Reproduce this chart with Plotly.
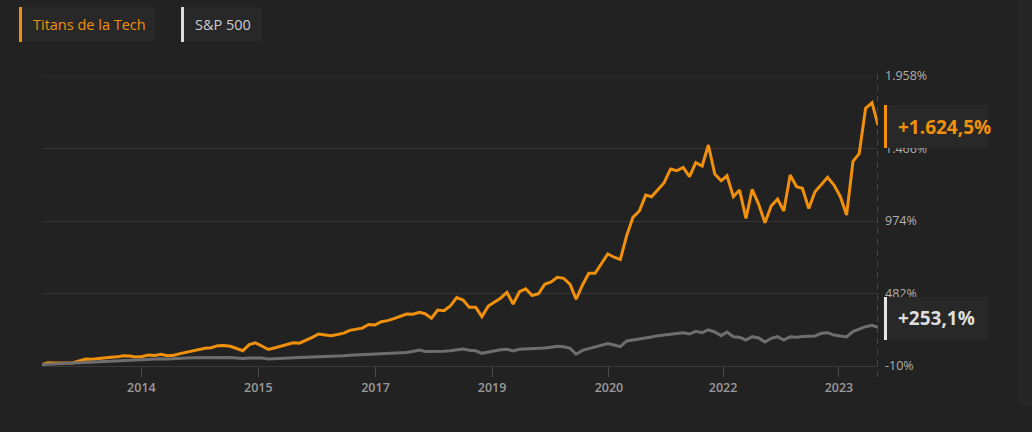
import pandas as pd
import plotly.graph_objects as go

# ---------------- data ----------------
start_month = "2013-02-01"
n_months = 134
dates = pd.date_range(start_month, periods=n_months, freq="MS")

titans = [0, 12, 11, 9, 10, 12, 24, 37, 36, 42,
          46, 49, 52, 59, 58, 51, 54, 65, 61, 69,
          59, 63, 74, 83, 92, 104, 111, 114, 128, 129,
          124, 109, 94, 135, 147, 126, 102, 112, 125, 134,
          148, 145, 162, 184, 207, 201, 196, 204, 213, 232,
          242, 247, 272, 268, 291, 298, 312, 328, 343, 341,
          354, 345, 314, 370, 365, 397, 455, 438, 388, 388,
          325, 397, 428, 450, 490, 411, 494, 514, 468, 480,
          545, 560, 592, 585, 544, 443, 540, 619, 619, 687,
          750, 728, 712, 876, 999, 1042, 1150, 1139, 1184, 1234,
          1327, 1315, 1338, 1275, 1370, 1347, 1490, 1293, 1247, 1281,
          1139, 1184, 992, 1189, 1089, 962, 1076, 1123, 1042, 1286,
          1207, 1196, 1059, 1173, 1222, 1271, 1218, 1139, 1015, 1379,
          1431, 1739, 1777, 1624.5]

sp500 = [0, 2, 5, 8, 10, 12, 14, 16, 18, 19,
         22, 25, 28, 31, 31, 33, 34, 36, 37, 40,
         38, 42, 44, 45, 46, 46, 48, 49, 48, 50,
         47, 44, 41, 45, 46, 44, 37, 38, 42, 44,
         45, 47, 49, 50, 51, 53, 53, 57, 60, 63,
         65, 68, 70, 72, 72, 74, 77, 79, 82, 88,
         99, 88, 87, 88, 90, 94, 99, 105, 97, 93,
         76, 86, 94, 100, 104, 92, 104, 106, 107, 107,
         112, 118, 124, 121, 110, 70, 96, 108, 118, 128,
         142, 132, 121, 160, 166, 172, 182, 187, 196, 200,
         207, 212, 216, 207, 225, 216, 236, 221, 196, 221,
         189, 185, 166, 189, 180, 153, 178, 189, 166, 189,
         185, 190, 192, 194, 212, 216, 200, 195, 187, 223,
         239, 257, 266, 253.1]

series_names = ["Titans de la Tech", "S&P 500"]
end_labels = ["+1.624,5%", "+253,1%"]

x_tick_dates = ["2014-05-28", "2015-12-15", "2017-07-04", "2019-01-19",
                "2020-08-07", "2022-02-10", "2023-08-25"]
x_tick_labels = ["2014", "2015", "2017", "2019", "2020", "2022", "2023"]

y_tick_values = [-10, 482, 974, 1466, 1958]
y_tick_labels = ["-10%", "482%", "974%", "1.466%", "1.958%"]

# ---------------- style ----------------
BG = "#222222"
BOX = "#282828"
ORANGE = "#f0900c"
GRAY_LINE = "#6e6e6e"
GRID = "#363636"
FONT = "Open Sans"

# plot area in pixels
W, H = 1032, 432
L, R, T, B = 42, 154, 76, 66
PW, PH = W - L - R, H - T - B


def px(xp):
    return (xp - L) / PW


def py(yp):
    return (H - B - yp) / PH


fig = go.Figure()
fig.add_trace(go.Scatter(x=dates, y=titans, mode="lines", name=series_names[0],
                         line=dict(color=ORANGE, width=3), hoverinfo="skip"))
fig.add_trace(go.Scatter(x=dates, y=sp500, mode="lines", name=series_names[1],
                         line=dict(color=GRAY_LINE, width=3), hoverinfo="skip"))

shapes = []
# subtle right panel strip
shapes.append(dict(type="rect", xref="paper", yref="paper", layer="below",
                   x0=px(1019), x1=px(1032), y0=py(405), y1=py(0),
                   fillcolor="#262626", line=dict(width=0)))
# top gridline (at range edge)
shapes.append(dict(type="line", xref="paper", yref="y", layer="below",
                   x0=0, x1=1, y0=y_tick_values[-1], y1=y_tick_values[-1],
                   line=dict(color=GRID, width=1)))
# dashed vertical line at last date
shapes.append(dict(type="line", xref="x", yref="paper",
                   x0=dates[-1], x1=dates[-1], y0=py(377), y1=py(72),
                   line=dict(color="#6a6a6a", width=1, dash="6px,5px")))

# legend boxes
legend_boxes = [(19, 155, ORANGE), (181, 262, "#dcdcdc")]
for (x0, x1, c) in legend_boxes:
    shapes.append(dict(type="rect", xref="paper", yref="paper",
                       x0=px(x0), x1=px(x1), y0=py(42), y1=py(7),
                       fillcolor=BOX, line=dict(width=0)))
    shapes.append(dict(type="rect", xref="paper", yref="paper",
                       x0=px(x0), x1=px(x0 + 3), y0=py(42), y1=py(7),
                       fillcolor=c, line=dict(width=0)))

# end label boxes
end_boxes = [(105, 148, ORANGE), (297, 340, "#e6e6e6")]
for (y0, y1, c) in end_boxes:
    shapes.append(dict(type="rect", xref="paper", yref="paper",
                       x0=px(883), x1=px(988), y0=py(y1), y1=py(y0),
                       fillcolor=BOX, line=dict(width=0)))
    shapes.append(dict(type="rect", xref="paper", yref="paper",
                       x0=px(884), x1=px(887), y0=py(y1), y1=py(y0),
                       fillcolor=c, line=dict(width=0)))

annotations = [
    dict(text=series_names[0], xref="paper", yref="paper", x=px(31), y=py(24.5),
         xanchor="left", yanchor="middle", showarrow=False,
         font=dict(family=FONT, size=14.5, color=ORANGE)),
    dict(text=series_names[1], xref="paper", yref="paper", x=px(193), y=py(24.5),
         xanchor="left", yanchor="middle", showarrow=False,
         font=dict(family=FONT, size=14.5, color="#c8ccd2")),
    dict(text=end_labels[0], xref="paper", yref="paper", x=px(896), y=py(127),
         xanchor="left", yanchor="middle", showarrow=False,
         font=dict(family=FONT, size=19, color=ORANGE, weight="bold")),
    dict(text=end_labels[1], xref="paper", yref="paper", x=px(896), y=py(318),
         xanchor="left", yanchor="middle", showarrow=False,
         font=dict(family=FONT, size=19, color="#dedede", weight="bold")),
]

fig.update_layout(
    width=W, height=H, autosize=False,
    margin=dict(l=L, r=R, t=T, b=B, pad=0),
    paper_bgcolor=BG, plot_bgcolor=BG,
    showlegend=False,
    shapes=shapes, annotations=annotations,
    font=dict(family=FONT),
    xaxis=dict(type="date", range=[dates[0], dates[-1]],
               tickvals=x_tick_dates, ticktext=x_tick_labels,
               ticks="outside", ticklen=10, tickcolor="#4a4a4a", tickwidth=1,
               showgrid=False, zeroline=False,
               showline=True, linecolor="#3a3a3a", linewidth=1,
               tickfont=dict(family=FONT, size=12.5, color="#9a9a9a", weight=600),
               fixedrange=True),
    yaxis=dict(range=[-10, 1958], side="right",
               tickvals=y_tick_values, ticktext=y_tick_labels,
               ticks="", showgrid=True, gridcolor=GRID, gridwidth=1,
               zeroline=False, showline=False,
               ticklabelstandoff=6,
               tickfont=dict(family=FONT, size=12.5, color="#b0b0b0"),
               fixedrange=True),
)

fig.write_html("out.html", config={"displayModeBar": False})
